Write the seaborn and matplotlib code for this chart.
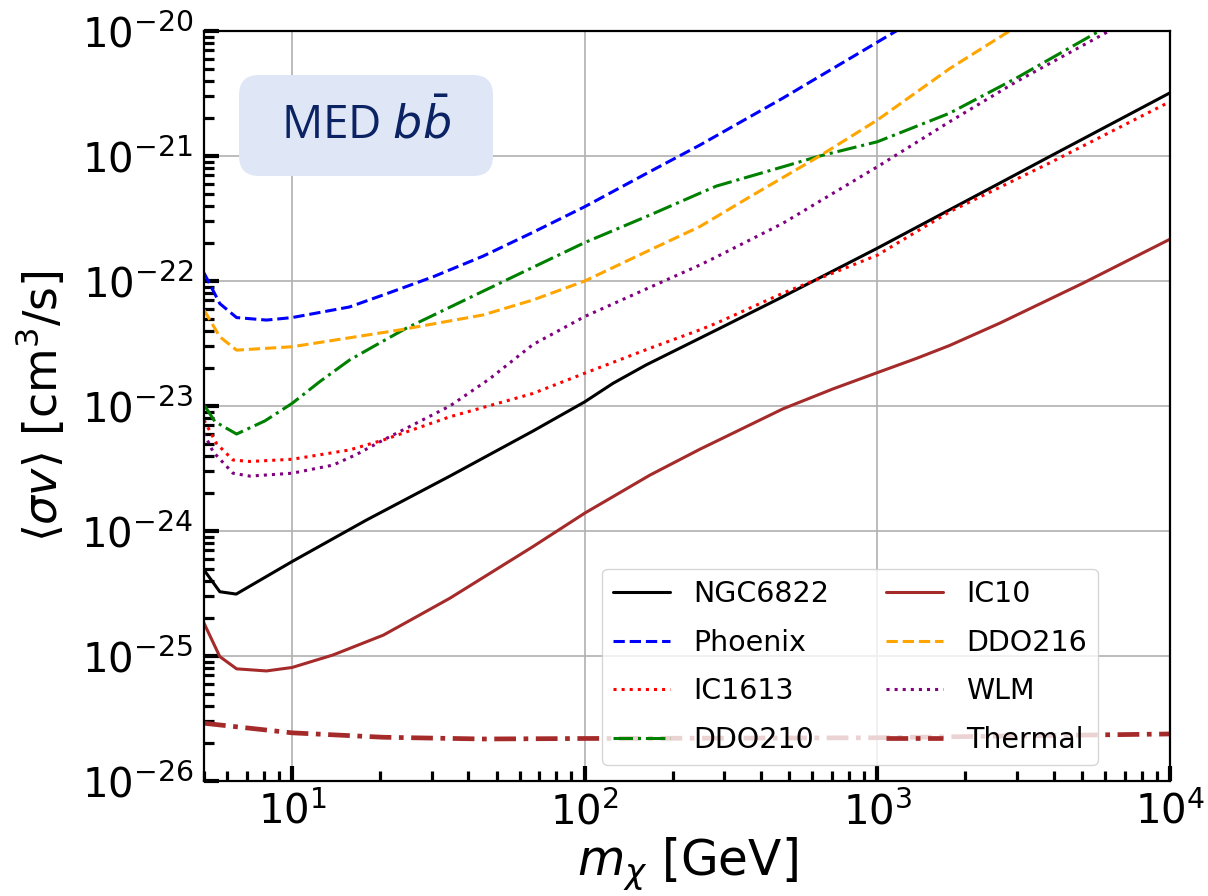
import numpy as np
import pandas as pd
import matplotlib
matplotlib.use("Agg")
import matplotlib.pyplot as plt
from matplotlib.patches import FancyBboxPatch
import seaborn as sns

# ---------------- data ----------------
ngc6822_m = [5.0, 5.66, 6.44, 10, 17.9, 34.6, 66.5, 100, 125, 162, 247, 282, 476, 1000, 2296, 3880, 10000]
ngc6822_s = [4.88e-25, 3.27e-25, 3.13e-25, 5.7e-25, 1.22e-24, 2.75e-24, 6.3e-24, 1.08e-23, 1.52e-23,
             2.13e-23, 3.48e-23, 4.06e-23, 7.5e-23, 1.83e-22, 5.15e-22, 9.9e-22, 3.2e-21]

phoenix_m = [5.0, 5.66, 6.46, 8.17, 10, 15.7, 21.0, 30.3, 44.9, 66.5, 100, 167, 247, 475, 1160, 1400]
phoenix_s = [1.16e-22, 6.6e-23, 5.1e-23, 4.87e-23, 5.1e-23, 6.2e-23, 7.9e-23, 1.08e-22, 1.58e-22,
             2.45e-22, 3.93e-22, 7.5e-22, 1.22e-21, 2.9e-21, 1.0e-20, 1.3e-20]

ic1613_m = [5.0, 5.52, 6.28, 7.17, 10, 15.7, 20.5, 34.6, 66.5, 100, 167, 247, 282, 476, 1000, 1766, 3880, 10000]
ic1613_s = [7.7e-24, 5.0e-24, 3.7e-24, 3.6e-24, 3.75e-24, 4.45e-24, 5.35e-24, 8.2e-24, 1.26e-23,
            1.83e-23, 2.9e-23, 4.06e-23, 4.6e-23, 8.0e-23, 1.61e-22, 3.58e-22, 8.8e-22, 2.72e-21]

ddo210_m = [5.0, 5.45, 6.46, 8.07, 10, 12.4, 15.7, 19.9, 24.6, 51.2, 100, 167, 247, 282, 476, 635,
            1000, 1766, 2985, 5740, 7000]
ddo210_s = [1.02e-23, 7.5e-24, 5.97e-24, 7.6e-24, 1.05e-23, 1.56e-23, 2.33e-23, 3.19e-23, 4.2e-23,
            9.6e-23, 2.03e-22, 3.37e-22, 5.03e-22, 5.75e-22, 8.2e-22, 1.0e-21, 1.3e-21, 2.2e-21,
            4.2e-21, 1.0e-20, 1.3e-20]

ic10_m = [5.0, 5.66, 6.46, 8.17, 10, 13.8, 20.5, 26.5, 34.6, 66.5, 100, 167, 247, 476, 705,
          1000, 1358, 1766, 2620, 5040, 10000]
ic10_s = [1.83e-25, 9.9e-26, 7.9e-26, 7.6e-26, 8.1e-26, 1.02e-25, 1.47e-25, 2.05e-25, 2.9e-25, 7.5e-25,
          1.39e-24, 2.8e-24, 4.5e-24, 9.5e-24, 1.37e-23, 1.85e-23, 2.4e-23, 3.05e-23,
          4.6e-23, 9.6e-23, 2.16e-22]

ddo216_m = [5.0, 5.66, 6.46, 10, 23.3, 44.9, 66.5, 100, 167, 247, 366, 635, 1000, 1766, 2830, 3300]
ddo216_s = [5.86e-23, 3.58e-23, 2.8e-23, 2.98e-23, 4.06e-23, 5.35e-23, 7.05e-23, 1.0e-22, 1.77e-22,
            2.72e-22, 4.7e-22, 1.0e-21, 1.94e-21, 5.0e-21, 1.0e-20, 1.3e-20]

wlm_m = [5.0, 5.37, 6.28, 7.17, 10, 13.8, 16.6, 20.5, 34.6, 47.3, 66.5, 100, 167, 247, 282, 476,
         1000, 1766, 2985, 6200, 7500]
wlm_s = [6.05e-24, 4.3e-24, 2.9e-24, 2.75e-24, 2.9e-24, 3.37e-24, 4.1e-24, 5.35e-24, 1.0e-23, 1.65e-23,
         3.1e-23, 5.2e-23, 8.9e-23, 1.34e-22, 1.56e-22, 2.9e-22, 8.2e-22, 1.88e-21, 3.93e-21,
         1.0e-20, 1.3e-20]

thermal_m = [5.0, 10, 20.5, 44.9, 100, 1000, 10000]
thermal_s = [2.9e-26, 2.43e-26, 2.24e-26, 2.17e-26, 2.19e-26, 2.22e-26, 2.38e-26]

names = ["NGC6822", "Phoenix", "IC1613", "DDO210", "IC10", "DDO216", "WLM", "Thermal"]
masses = [ngc6822_m, phoenix_m, ic1613_m, ddo210_m, ic10_m, ddo216_m, wlm_m, thermal_m]
limits = [ngc6822_s, phoenix_s, ic1613_s, ddo210_s, ic10_s, ddo216_s, wlm_s, thermal_s]

y_major = [1e-26, 1e-25, 1e-24, 1e-23, 1e-22, 1e-21, 1e-20]
x_major = [10, 100, 1000, 10000]

# ---------------- styling ----------------
colors = ["black", "blue", "red", "green", "brown", "orange", "purple", "brown"]
styles = ["-", (0, (3.7, 1.6)), (0, (1, 1.65)), (0, (6.4, 1.6, 1, 1.6)),
          "-", (0, (3.7, 1.6)), (0, (1, 1.65)), (0, (4.6, 1.6, 1, 1.6))]
widths = [2.2, 2.2, 2.2, 2.2, 2.2, 2.2, 2.2, 3.4]

sns.set_theme(style="white")
plt.rcParams["font.family"] = ["DejaVu Sans"]
plt.rcParams["mathtext.fontset"] = "dejavusans"
for k in ["text.color", "axes.labelcolor", "xtick.color", "ytick.color", "axes.edgecolor"]:
    plt.rcParams[k] = "black"

fig = plt.figure(figsize=(12.08, 8.96), dpi=100)
ax = fig.add_axes([0.1689, 0.1283, 0.7996, 0.8371])

for name, m, s, c, ls, lw in zip(names, masses, limits, colors, styles, widths):
    df = pd.DataFrame({"m": m, "s": s})
    sns.lineplot(data=df, x="m", y="s", ax=ax, color=c, linestyle=ls, linewidth=lw,
                 label=name, sort=False, estimator=None)

ax.set_xscale("log")
ax.set_yscale("log")
ax.set_xlim(5, 1e4)
ax.set_ylim(1e-26, 1e-20)
ax.set_yticks(y_major)
ax.set_xticks(x_major)

ax.grid(True, which="major", color="#b0b0b0", linewidth=1.2)
ax.tick_params(which="major", direction="in", length=11, width=3, labelsize=29, pad=8,
               top=False, right=False, left=True, bottom=True, colors="black")
ax.tick_params(which="minor", direction="in", length=7.5, width=2.3,
               top=False, right=False, left=True, bottom=True, colors="black")
ax.yaxis.set_minor_locator(matplotlib.ticker.LogLocator(base=10, subs=np.arange(2, 10), numticks=100))
ax.xaxis.set_minor_locator(matplotlib.ticker.LogLocator(base=10, subs=np.arange(2, 10), numticks=100))
ax.yaxis.set_minor_formatter(matplotlib.ticker.NullFormatter())
ax.xaxis.set_minor_formatter(matplotlib.ticker.NullFormatter())
for sp in ax.spines.values():
    sp.set_color("black")
    sp.set_linewidth(1.6)

ax.set_xlabel(r"$m_\chi$ [GeV]", fontsize=35, labelpad=2, color="black")
ax.set_ylabel(r"$\langle\sigma v\rangle$ [cm$^3$/s]", fontsize=33, labelpad=10, color="black")

# annotation box
bx0, bx1 = (239 - 204) / 966, (493 - 204) / 966
by0, by1 = (781 - 176) / 750, (781 - 75) / 750
rx = 20 / 966
box = FancyBboxPatch((bx0, by0), bx1 - bx0, by1 - by0, transform=ax.transAxes,
                     boxstyle=f"round,pad=0,rounding_size={rx}", mutation_aspect=966 / 750,
                     fc="#dfe6f6", ec="none", zorder=4)
ax.add_patch(box)
ax.text((bx0 + bx1) / 2, (by0 + by1) / 2, r"MED $b\bar{b}$", transform=ax.transAxes, fontsize=33,
        family=["Open Sans", "DejaVu Sans"], color="#0b2263", ha="center", va="center", zorder=5)

leg = ax.legend(ncol=2, fontsize=20.5, loc="lower right", bbox_to_anchor=(0.9255, 0.0213),
                borderaxespad=0, framealpha=0.8, columnspacing=2.0, labelspacing=0.72,
                handlelength=2.0, handletextpad=0.8)
for t in leg.get_texts():
    t.set_color("black")

fig.savefig("out.png", dpi=100)
